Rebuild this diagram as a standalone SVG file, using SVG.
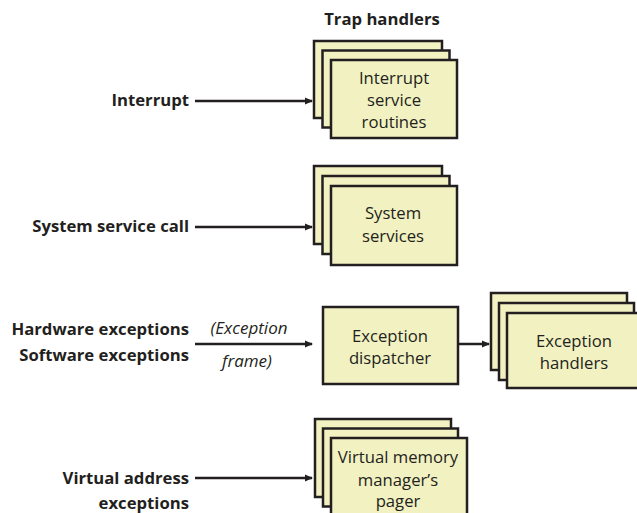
<svg xmlns="http://www.w3.org/2000/svg" width="637" height="513" viewBox="0 0 637 513">
<style>
  .box { fill: #f2f1c1; stroke: #231f20; stroke-width: 2.5; }
  .lbl { font-family: "Open Sans", "Noto Sans", sans-serif; font-size: 16.7px; font-weight: bold; fill: #231f20; }
  .txt { font-family: "Open Sans", "Noto Sans", sans-serif; font-size: 16.7px; fill: #231f20; text-anchor: middle; }
  .it { font-family: "Open Sans", "Noto Sans", sans-serif; font-size: 17px; font-style: italic; fill: #231f20; text-anchor: middle; }
  .conn { stroke: #231f20; stroke-width: 2.5; fill: none; marker-end: url(#ah); }
</style>
<defs>
  <marker id="ah" markerWidth="8" markerHeight="8" refX="7" refY="4" orient="auto" markerUnits="userSpaceOnUse">
    <path d="M0,0.5 L8,4 L0,7.5 Z" fill="#231f20"/>
  </marker>
</defs>
<rect width="637" height="513" fill="#ffffff"/>

<g id="title">
  <text class="lbl" x="382" y="25" text-anchor="middle">Trap handlers</text>
</g>

<g id="labels">
  <text class="lbl" x="189" y="106" text-anchor="end">Interrupt</text>
  <text class="lbl" x="189" y="232" text-anchor="end">System service call</text>
  <text class="lbl" x="189" y="335" text-anchor="end">Hardware exceptions</text>
  <text class="lbl" x="189" y="361" text-anchor="end">Software exceptions</text>
  <text class="lbl" x="189" y="484" text-anchor="end">Virtual address</text>
  <text class="lbl" x="189" y="508.5" text-anchor="end">exceptions</text>
</g>

<g id="connectors">
  <line class="conn" x1="195" y1="101" x2="312" y2="101"/>
  <line class="conn" x1="195" y1="227" x2="312" y2="227"/>
  <line class="conn" x1="195" y1="344" x2="312" y2="344"/>
  <line class="conn" x1="458" y1="344" x2="489" y2="344"/>
  <line class="conn" x1="195" y1="478" x2="312" y2="478"/>
  <text class="it" x="249" y="334">(Exception</text>
  <text class="it" x="247" y="367">frame)</text>
</g>

<g id="isr">
  <rect class="box" x="314" y="41" width="128" height="77"/>
  <rect class="box" x="322.5" y="50.5" width="127" height="77"/>
  <rect class="box" x="331" y="60" width="126" height="78"/>
  <text class="txt" x="394" y="84">Interrupt</text>
  <text class="txt" x="394" y="106">service</text>
  <text class="txt" x="394" y="128">routines</text>
</g>

<g id="syssvc">
  <rect class="box" x="314" y="166" width="128" height="78"/>
  <rect class="box" x="322.5" y="176" width="127" height="78"/>
  <rect class="box" x="331" y="186" width="126" height="79"/>
  <text class="txt" x="393" y="219">System</text>
  <text class="txt" x="393" y="242">services</text>
</g>

<g id="dispatcher">
  <rect class="box" x="323" y="307" width="135" height="77"/>
  <text class="txt" x="390" y="342">Exception</text>
  <text class="txt" x="390" y="364">dispatcher</text>
</g>

<g id="exhandlers">
  <rect class="box" x="491" y="293" width="136" height="77"/>
  <rect class="box" x="499" y="303" width="135" height="77"/>
  <rect class="box" x="507" y="313" width="136" height="75"/>
  <text class="txt" x="574" y="347">Exception</text>
  <text class="txt" x="574" y="369">handlers</text>
</g>

<g id="vmpager">
  <rect class="box" x="315" y="419" width="136" height="78"/>
  <rect class="box" x="323" y="428.5" width="135" height="78"/>
  <rect class="box" x="331" y="438" width="136" height="80"/>
  <text class="txt" x="398" y="463">Virtual memory</text>
  <text class="txt" x="398" y="486">manager’s</text>
  <text class="txt" x="398" y="507">pager</text>
</g>
</svg>
